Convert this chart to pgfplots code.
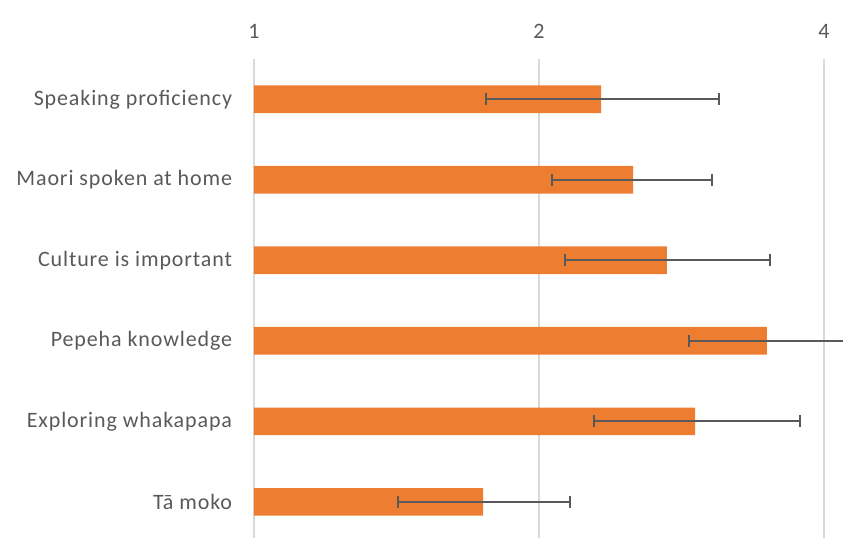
\documentclass[border=0pt]{standalone}
\usepackage{pgfplots}
\usepackage{pgfplotstable}
\pgfplotsset{compat=1.18}
\usepackage{fontspec}
\setmainfont{Carlito}
\newfontfamily\labelfont[LetterSpace=4]{Carlito}
\definecolor{barorange}{HTML}{ED7D31}
\definecolor{txtgray}{HTML}{595959}
\definecolor{gridgray}{HTML}{D9D9D9}
\pgfplotstableread{
idx value errplus errminus
0 2.326 0.773 0.568
1 2.514 0.532 0.450
2 2.730 0.778 0.599
3 3.482 0.918 0.601
4 2.923 0.850 0.637
5 1.746 0.411 0.327
}\datatable
\begin{document}
\begin{tikzpicture}
\begin{axis}[
  name=ax,
  at={(0,0)}, anchor=south west,
  scale only axis,
  width=427.5pt, height=359.25pt,
  xmode=log, log basis x=2,
  xmin=1, xmax=4,
  ymin=-0.5, ymax=5.45,
  y dir=reverse,
  xbar,
  bar width=0.342,
  clip=false,
  axis line style={draw=none},
  tick style={draw=none},
  xtick={1,2,4}, xticklabels={1,2,4},
  xticklabel pos=right,
  xmajorgrids,
  grid style={gridgray, line width=1.1pt},
  ytick={0,1,2,3,4,5},
  yticklabels={Speaking proficiency,Maori spoken at home,Culture is important,Pepeha knowledge,Exploring whakapapa,Tā moko},
  /pgf/number format/assume math mode=true,
  tick label style={font=\labelfont\fontsize{16.5pt}{19pt}\selectfont, text=txtgray},
  xticklabel style={yshift=12pt},
  yticklabel style={inner sep=0pt, xshift=-12pt},
]
\addplot[fill=barorange, draw=none,
  error bars/.cd, x dir=both, x explicit,
  error bar style={txtgray, line width=1.5pt},
  error mark options={rotate=90, mark size=4.5pt, line width=1.5pt, txtgray}]
  table[x=value, y=idx, x error plus=errplus, x error minus=errminus] {\datatable};
\end{axis}
\pgfresetboundingbox
\path ([xshift=-190.5pt]ax.south west) rectangle ([xshift=441.75pt, yshift=403.5pt]ax.south west);
\end{tikzpicture}
\end{document}
